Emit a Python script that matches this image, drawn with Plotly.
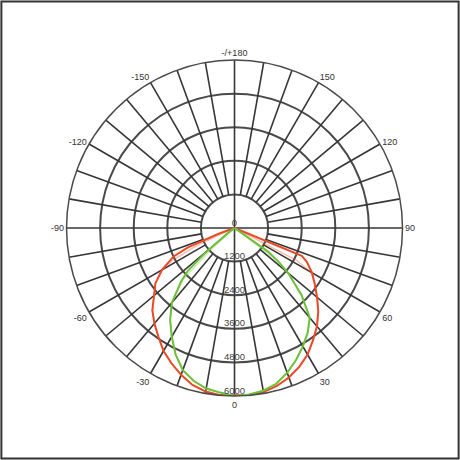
import plotly.graph_objects as go

# ---- data ----
red_theta = [-90, -75, -72.5, -70, -67.5, -65, -60, -55, -50, -45, -40, -35, -30, -25, -20, -15, -10, -5,
             0, 5, 10, 15, 20, 25, 30, 35, 40, 45, 50, 55, 60, 65, 67.5, 70, 75, 90]
red_r = [0, 0, 0, 600, 1800, 2400, 3000, 3450, 3750, 4150, 4450, 4740, 5070, 5330, 5580, 5800, 5930, 5990,
         5970, 5990, 5950, 5840, 5680, 5470, 5220, 4890, 4580, 4230, 3850, 3500, 3200, 2850, 2600, 0, 0, 0]

red2_theta = [-90, -70, -67.5, -65, -62.5, -60, -55, -50, -45, -40, -35, -30, -25, -20, -15, -10, -5,
              0, 5, 10, 15, 20, 25, 30, 35, 40, 45, 50, 55, 60, 62.5, 65, 90]
red2_r = [0, 0, 400, 1500, 2500, 2950, 3450, 3750, 4150, 4450, 4740, 5070, 5330, 5580, 5800, 5930, 5990,
          5970, 5990, 5950, 5840, 5680, 5470, 5220, 4890, 4580, 4230, 3850, 3500, 3150, 2500, 0, 0]

green_theta = [-90, -55, -52.5, -50, -47.5, -45, -40, -35, -30, -25, -20, -15, -10, -5,
               0, 5, 10, 15, 20, 25, 30, 35, 40, 45, 50, 52.5, 55, 57.5, 90]
green_r = [0, 0, 300, 1300, 2250, 2700, 3480, 4010, 4480, 4980, 5400, 5650, 5820, 5900,
           6000, 5970, 5900, 5760, 5500, 5200, 4880, 4560, 4180, 3390, 2500, 2000, 1450, 0, 0]

green2_theta = [-90, -50, -47.5, -45, -40, -35, -30, -25, -20, -15, -10, -5,
                0, 5, 10, 15, 20, 25, 30, 35, 40, 45, 50, 52.5, 55, 90]
green2_r = [0, 0, 1200, 2600, 3480, 4010, 4480, 4980, 5400, 5650, 5820, 5900,
            6000, 5970, 5900, 5760, 5500, 5200, 4880, 4560, 4180, 3390, 2500, 1900, 0, 0]

radial_ticks = [0, 1200, 2400, 3600, 4800, 6000]
radial_labels = ["0", "1200", "2400", "3600", "4800", "6000"]
angle_ticks = [0, 30, 60, 90, 120, 150, 180, 210, 240, 270, 300, 330]
angle_labels = ["0", "30", "60", "90", "120", "150", "-/+180", "-150", "-120", "-90", "-60", "-30"]
spoke_step = 10
r_max = 6000
r_inner = 1200

GRID = "#363636"
RING = "#4a4a4a"
RED = "#ea4a26"
GREEN = "#6cc03a"

# ---- spokes ----
sp_theta, sp_r = [], []
for a in range(0, 360, spoke_step):
    start = 0 if a % 90 == 0 else r_inner
    sp_theta += [a, a, None]
    sp_r += [start, r_max, None]

fig = go.Figure()
fig.add_trace(go.Scatterpolar(theta=sp_theta, r=sp_r, mode="lines",
                              line=dict(color=GRID, width=1.6), hoverinfo="skip"))
fig.add_trace(go.Scatterpolar(theta=red2_theta, r=red2_r, mode="lines",
                              line=dict(color=RED, width=1.5), opacity=0.35))
fig.add_trace(go.Scatterpolar(theta=green2_theta, r=green2_r, mode="lines",
                              line=dict(color=GREEN, width=1.5), opacity=0.35))
fig.add_trace(go.Scatterpolar(theta=red_theta, r=red_r, mode="lines",
                              line=dict(color=RED, width=2)))
fig.add_trace(go.Scatterpolar(theta=green_theta, r=green_r, mode="lines",
                              line=dict(color=GREEN, width=2)))
fig.add_trace(go.Scatterpolar(theta=[0] * len(radial_ticks), r=radial_ticks, mode="text",
                              text=radial_labels, textposition="top center",
                              textfont=dict(family="Liberation Sans", size=9.5, color="#444")))

fig.update_layout(
    width=460, height=460, autosize=False,
    margin=dict(l=0, r=0, t=0, b=0),
    paper_bgcolor="white", showlegend=False,
    polar=dict(
        domain=dict(x=[0.1446, 0.875], y=[0.139, 0.8696]),
        bgcolor="white",
        radialaxis=dict(range=[0, r_max], tickvals=radial_ticks[1:-1], showticklabels=False,
                        showgrid=True, gridcolor=RING, gridwidth=1.5, showline=False, ticks=""),
        angularaxis=dict(rotation=-90, direction="counterclockwise",
                         tickvals=angle_ticks, ticktext=angle_labels, showgrid=False, ticks="",
                         showline=True, linecolor=RING, linewidth=1.5,
                         tickfont=dict(family="Liberation Sans", size=9, color="#333")),
    ),
    shapes=[dict(type="rect", xref="paper", yref="paper", x0=0.003, x1=0.997, y0=0.003, y1=0.997,
                 line=dict(color="#333", width=2))],
)
fig.write_html("out.html", config={"displayModeBar": False},
               post_script="document.body.style.margin='0px';")
